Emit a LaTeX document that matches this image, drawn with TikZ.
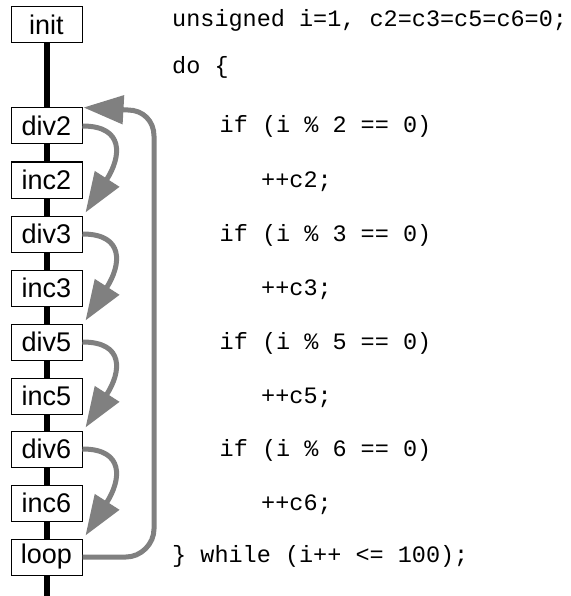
\documentclass[tikz,border=0pt]{standalone}
\usepackage{fontspec}
\setsansfont{Liberation Sans}
\newfontfamily\mycodefam{Liberation Mono}
\usetikzlibrary{arrows.meta}
\pgfdeclarelayer{bg}
\pgfsetlayers{bg,main}
\definecolor{arrgray}{RGB}{128,128,128}
\tikzset{
  box/.style={draw, line width=1pt, fill=white, minimum width=71pt, minimum height=36pt,
    inner sep=0pt, font=\sffamily\fontsize{27}{30}\selectfont},
  codeline/.style={anchor=base west, inner sep=0pt, font=\mycodefam\fontsize{23.5}{28}\selectfont},
  flow/.style={draw=arrgray, line width=5pt, -{Triangle[length=40pt,width=28pt]}},
  spine/.style={line width=6pt, black}
}
\begin{document}
\begin{tikzpicture}[x=1pt,y=-1pt]
\useasboundingbox (0,0) rectangle (570,596);
% boxes
\node[box] (init) at (46.5,25) {init};
\node[box] (div2) at (46.5,126) {div2};
\node[box] (inc2) at (46.5,180) {inc2};
\node[box] (div3) at (46.5,234) {div3};
\node[box] (inc3) at (46.5,288) {inc3};
\node[box] (div5) at (46.5,342) {div5};
\node[box] (inc5) at (46.5,396) {inc5};
\node[box] (div6) at (46.5,449) {div6};
\node[box] (inc6) at (46.5,503) {inc6};
\node[box] (loop) at (46.5,557) {loop};
\coordinate (bottomend) at (46.5,596);
\begin{pgfonlayer}{bg}
\fill[white] (0,0) rectangle (570,596);
\draw[spine] (init.south) -- (bottomend);
\end{pgfonlayer}
% code
\node[codeline] (l1) at (172,27) {unsigned i=1, c2=c3=c5=c6=0;};
\node[codeline] (l2) at (172,74) {do \{};
\node[codeline] (l3) at (219.5,133) {if (i \% 2 == 0)};
\node[codeline] (l4) at (261,187) {++c2;};
\node[codeline] (l5) at (219.5,241) {if (i \% 3 == 0)};
\node[codeline] (l6) at (261,295) {++c3;};
\node[codeline] (l7) at (219.5,349) {if (i \% 5 == 0)};
\node[codeline] (l8) at (261,403) {++c5;};
\node[codeline] (l9) at (219.5,456) {if (i \% 6 == 0)};
\node[codeline] (l10) at (261,510) {++c6;};
\node[codeline] (l11) at (172,562) {\} while (i++ <= 100);};
% skip arrows
\draw[flow] (div2.east) .. controls +(42,0) and +(36,-56) .. ([shift={(3,-3)}]div3.north east);
\draw[flow] (div3.east) .. controls +(42,0) and +(36,-56) .. ([shift={(3,-3)}]div5.north east);
\draw[flow] (div5.east) .. controls +(42,0) and +(36,-56) .. ([shift={(3,-3)}]div6.north east);
\draw[flow] (div6.east) .. controls +(42,0) and +(36,-56) .. ([shift={(3,-3)}]loop.north east);
% loop back
\draw[flow] (loop.east) -- (126,557) .. controls (141,557) and (154,544) .. (154,529)
  -- (154,136) .. controls (154,121) and (143,110) .. (128,110) -- ([xshift=1pt]div2.north east);
\end{tikzpicture}
\end{document}
